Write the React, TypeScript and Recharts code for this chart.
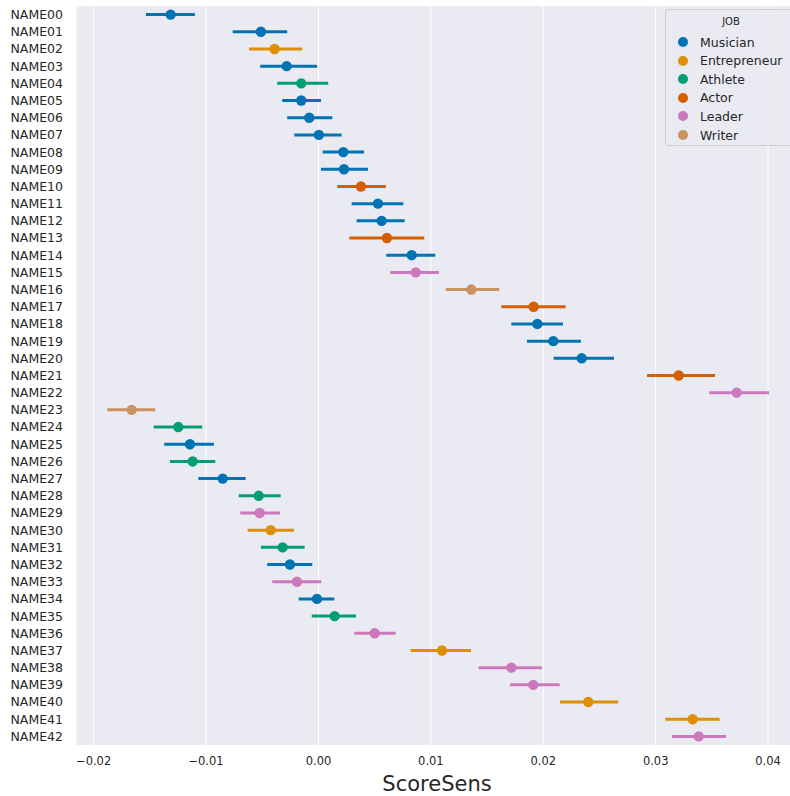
import { ScatterChart, Scatter, XAxis, YAxis, CartesianGrid, ErrorBar } from 'recharts';

const NAMES = [
  'NAME00', 'NAME01', 'NAME02', 'NAME03', 'NAME04', 'NAME05', 'NAME06', 'NAME07', 'NAME08', 'NAME09',
  'NAME10', 'NAME11', 'NAME12', 'NAME13', 'NAME14', 'NAME15', 'NAME16', 'NAME17', 'NAME18', 'NAME19',
  'NAME20', 'NAME21', 'NAME22', 'NAME23', 'NAME24', 'NAME25', 'NAME26', 'NAME27', 'NAME28', 'NAME29',
  'NAME30', 'NAME31', 'NAME32', 'NAME33', 'NAME34', 'NAME35', 'NAME36', 'NAME37', 'NAME38', 'NAME39',
  'NAME40', 'NAME41', 'NAME42',
];

const ROW_JOBS = [
  'Musician', 'Musician', 'Entrepreneur', 'Musician', 'Athlete', 'Musician', 'Musician', 'Musician', 'Musician', 'Musician',
  'Actor', 'Musician', 'Musician', 'Actor', 'Musician', 'Leader', 'Writer', 'Actor', 'Musician', 'Musician',
  'Musician', 'Actor', 'Leader', 'Writer', 'Athlete', 'Musician', 'Athlete', 'Musician', 'Athlete', 'Leader',
  'Entrepreneur', 'Athlete', 'Musician', 'Leader', 'Musician', 'Athlete', 'Leader', 'Entrepreneur', 'Leader', 'Leader',
  'Entrepreneur', 'Entrepreneur', 'Leader',
];

const MEANS = [
  -0.01315, -0.00512, -0.0039, -0.00283, -0.00153, -0.00153, -0.00082, 0.00004, 0.00221, 0.00227,
  0.00378, 0.00529, 0.00562, 0.00609, 0.00829, 0.00865, 0.0136, 0.01914, 0.01947, 0.02089,
  0.02342, 0.03205, 0.03721, -0.01662, -0.01247, -0.01143, -0.01119, -0.00852, -0.00532, -0.00523,
  -0.00425, -0.00319, -0.00254, -0.00191, -0.00013, 0.00144, 0.005, 0.01099, 0.01716, 0.01911,
  0.024, 0.03329, 0.03383,
];

const LOWS = [
  -0.01535, -0.00763, -0.00618, -0.00518, -0.00367, -0.00322, -0.00278, -0.00215, 0.00037, 0.00022,
  0.00167, 0.00295, 0.0034, 0.00274, 0.00603, 0.00639, 0.01132, 0.01627, 0.01716, 0.01855,
  0.02092, 0.02923, 0.03477, -0.01879, -0.01466, -0.01372, -0.01321, -0.01069, -0.0071, -0.00696,
  -0.0063, -0.00512, -0.00456, -0.00411, -0.00176, -0.0006, 0.00318, 0.0082, 0.01425, 0.01704,
  0.02149, 0.03086, 0.03145,
];

const HIGHS = [
  -0.011, -0.00278, -0.00144, -0.00013, 0.00087, 0.00022, 0.00123, 0.00206, 0.00405, 0.0044,
  0.006, 0.00755, 0.00767, 0.00941, 0.01039, 0.01072, 0.01609, 0.02199, 0.02175, 0.02335,
  0.02629, 0.03528, 0.04008, -0.01452, -0.01034, -0.0093, -0.00918, -0.00648, -0.00336, -0.00343,
  -0.00218, -0.00123, -0.00055, 0.00025, 0.00141, 0.00334, 0.00687, 0.01357, 0.01988, 0.02146,
  0.02667, 0.03569, 0.03625,
];

const JOBS = ['Musician', 'Entrepreneur', 'Athlete', 'Actor', 'Leader', 'Writer'];
const JOB_COLORS = ['#0173b2', '#de8f05', '#029e73', '#d55e00', '#cc78bc', '#ca9161'];

const X_TICKS = [-0.02, -0.01, 0, 0.01, 0.02, 0.03, 0.04];

const FONT = '"DejaVu Sans", sans-serif';
const TEXT = '#262626';

const rows = NAMES.map((name, i) => ({
  idx: i,
  name,
  job: ROW_JOBS[i],
  value: MEANS[i],
  err: [MEANS[i] - LOWS[i], HIGHS[i] - MEANS[i]],
}));

function fmtX(v: number) {
  const s = Math.abs(v).toFixed(2);
  return v < -1e-9 ? '\u2212' + s : s;
}

// legend drawn as an overlay so it doesn't push the plot area down
function JobLegend() {
  return (
    <div
      style={{
        position: 'absolute',
        left: 665,
        top: 9,
        width: 150,
        height: 137,
        boxSizing: 'border-box',
        border: '1px solid #cccccc',
        borderRadius: 3,
        background: 'rgba(234,234,242,0.8)',
        fontFamily: FONT,
        color: TEXT,
      }}
    >
      <div style={{ position: 'absolute', left: 0, width: 130, top: 6, textAlign: 'center', fontSize: 10 }}>JOB</div>
      {JOBS.map((job, i) => (
        <div key={job} style={{ position: 'absolute', left: 12, top: 23 + i * 18.6, height: 18, display: 'flex', alignItems: 'center' }}>
          <span style={{ width: 10, height: 10, borderRadius: 5, background: JOB_COLORS[i], display: 'inline-block' }} />
          <span style={{ marginLeft: 12, fontSize: 12.5 }}>{job}</span>
        </div>
      ))}
    </div>
  );
}

export default function App() {
  return (
    <div style={{ position: 'absolute', left: 0, top: 0, width: 790, height: 796, overflow: 'hidden', background: '#fff' }}>
      <ScatterChart width={800} height={796} margin={{ top: 6, right: 2, left: 0, bottom: 0 }}>
        <CartesianGrid horizontal={false} stroke="#ffffff" strokeWidth={1} fill="#eaeaf2" />
        <XAxis
          type="number"
          dataKey="value"
          domain={[-0.02157, 0.04266]}
          ticks={X_TICKS}
          tickFormatter={fmtX}
          allowDataOverflow
          axisLine={false}
          tickLine={false}
          tickSize={10}
          tickMargin={2}
          height={51}
          tick={{ fill: TEXT, fontSize: 11.5, fontFamily: FONT }}
          label={{ value: 'ScoreSens', position: 'insideBottom', offset: 5, fontSize: 21, fill: TEXT, fontFamily: FONT }}
        />
        <YAxis
          type="number"
          dataKey="idx"
          domain={[-0.5, 42.5]}
          reversed
          ticks={rows.map((r) => r.idx)}
          interval={0}
          tickFormatter={(v: number) => NAMES[v] ?? ''}
          axisLine={false}
          tickLine={false}
          tickSize={11}
          tickMargin={2}
          width={76}
          tick={{ fill: TEXT, fontSize: 12.5, fontFamily: FONT }}
        />
        {JOBS.map((job, j) => (
          <Scatter
            key={job}
            name={job}
            data={rows.filter((r) => r.job === job)}
            fill={JOB_COLORS[j]}
            isAnimationActive={false}
            shape={(props: any) => <circle cx={props.cx} cy={props.cy} r={5.2} fill={JOB_COLORS[j]} />}
          >
            <ErrorBar dataKey="err" direction="x" width={0} stroke={JOB_COLORS[j]} strokeWidth={3} isAnimationActive={false} />
          </Scatter>
        ))}
      </ScatterChart>
      <JobLegend />
    </div>
  );
}
